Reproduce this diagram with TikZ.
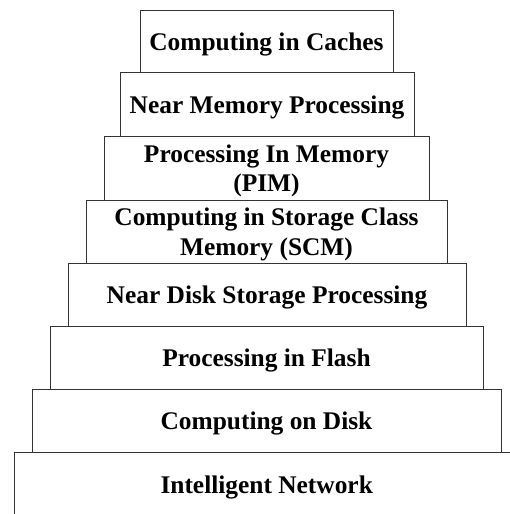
\documentclass[tikz,border=0pt]{standalone}
\usepackage{fontspec}
\setmainfont{Liberation Serif}
\begin{document}
\begin{tikzpicture}[x=1pt, y=-1pt,
  tier/.style={draw=black!80, line width=0.9pt, rectangle, inner sep=0pt,
    text depth=0pt, font=\bfseries\fontsize{25.4}{29.5}\selectfont, align=center}]
  % page frame; the widest tier runs off the right and bottom edges
  \useasboundingbox (0,0) rectangle (510,514);
  \clip (0,0) rectangle (510,514);
  % tiers, from the top of the stack down
  \node[tier, minimum width=253pt, minimum height=62pt]   (caches)  at (266.5, 41.7)  {Computing in Caches};
  \node[tier, minimum width=294pt, minimum height=63.6pt] (nmp)     at (267, 104.5)   {Near Memory Processing};
  \node[tier, minimum width=325pt, minimum height=63.7pt] (pim)     at (266.5, 168.15) {Processing In Memory\\(PIM)};
  \node[tier, minimum width=361pt, minimum height=63.3pt] (scm)     at (266.5, 231.65) {Computing in Storage Class\\Memory (SCM)};
  \node[tier, minimum width=398pt, minimum height=62.7pt] (ndsp)    at (267, 294.65)  {Near Disk Storage Processing};
  \node[tier, minimum width=433pt, minimum height=63pt]   (flash)   at (266.5, 357.5) {Processing in Flash};
  \node[tier, minimum width=469pt, minimum height=63.7pt] (disk)    at (266.5, 420.85) {Computing on Disk};
  \node[tier, minimum width=505.4pt, minimum height=63.6pt] (network) at (266.7, 484.5) {Intelligent Network};
\end{tikzpicture}
\end{document}
